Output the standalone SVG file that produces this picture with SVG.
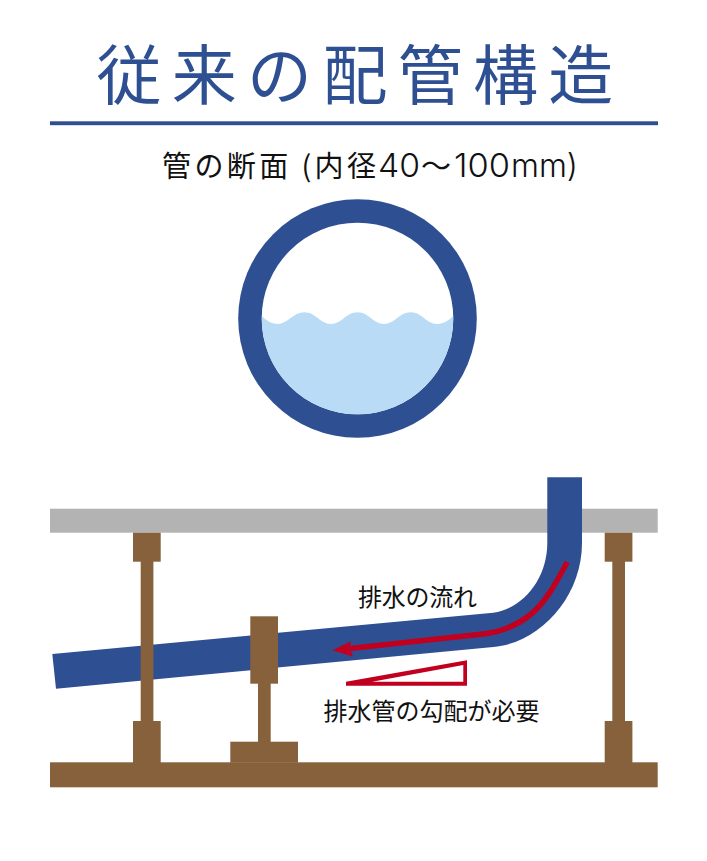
<svg xmlns="http://www.w3.org/2000/svg" width="707" height="861" viewBox="0 0 707 861">
<style>
text{font-family:"Noto Sans CJK JP","Noto Sans",sans-serif}
.blue{fill:#2e5093}.brown{fill:#87613b}.red{fill:#c1001f}
.lbl{font-size:24px;fill:#111}
.sub{font-size:29px;fill:#111}
.lat{font-family:"Inter","Liberation Sans",sans-serif;font-size:32px;font-weight:300;fill:#111}
</style>
<rect width="707" height="861" fill="#fff"/>
<g id="title">
<text x="96.500" y="98.500" font-size="65" letter-spacing="10.300" font-weight="400" class="blue">従来の配管構造</text>
<rect x="50" y="121.300" width="608" height="3.900" class="blue"/>
</g>
<g id="subtitle">
<text x="162" y="177" class="sub" textLength="214" lengthAdjust="spacing">管の断面 (内径</text>
<text x="378" y="177" class="lat" textLength="42" lengthAdjust="spacingAndGlyphs">40</text>
<text x="421" y="177" class="sub" textLength="30" lengthAdjust="spacingAndGlyphs">～</text>
<text x="454" y="177" class="lat" textLength="56" lengthAdjust="spacingAndGlyphs">100</text>
<text x="511" y="177" class="lat" textLength="67" lengthAdjust="spacingAndGlyphs">mm)</text>
</g>
<g id="pipe-section">
<circle cx="357.500" cy="318.500" r="119.300" class="blue"/>
<circle cx="357.500" cy="318.500" r="95.800" fill="#fff"/>
<path d="M261.800 316C266 320 271 324 277.700 324C288 324 293 312.300 304.300 312.300C316 312.300 320 324 331 324C342 324 346 312.300 357.600 312.300C369 312.300 373 324 384 324C395 324 399 312.300 411 312.300C422 312.300 426 324 437 324C444 324 449 320 453.200 316A95.800 95.800 0 0 1 357.500 414.300A95.800 95.800 0 0 1 261.800 316Z" fill="#b9dbf5"/>
</g>
<g id="ceiling"><rect x="50" y="508.700" width="607.700" height="24" fill="#b3b3b3"/></g>
<g id="floor"><rect x="50" y="762.300" width="607.700" height="25" class="brown"/></g>
<g id="support-right" class="brown">
<rect x="604.700" y="532.700" width="27.700" height="29"/>
<rect x="612.300" y="561" width="12.700" height="161"/>
<rect x="604.700" y="721" width="27.700" height="42"/>
</g>
<g id="pipe"><path d="M52.300 654L493.300 612.700C525 608 547.300 577 547.300 543V477.300H582V543C582 597 540 643 493.300 647L56 688.700Z" class="blue"/></g>
<g id="support-left" class="brown">
<rect x="133" y="532.700" width="27.700" height="29"/>
<rect x="140.700" y="561" width="12.700" height="161"/>
<rect x="133" y="721" width="27.700" height="42"/>
</g>
<g id="support-middle" class="brown">
<rect x="250.300" y="616.300" width="27.700" height="67.400"/>
<rect x="258" y="683" width="12.700" height="59"/>
<rect x="230.300" y="741.700" width="67.700" height="21"/>
</g>
<g id="connectors">
<path d="M567.300 562C555 585 545 603 530 615C515 627 500 632 483 634L350 648.500" fill="none" stroke="#c1001f" stroke-width="5.500"/>
<path d="M332.300 650.300L351 641.300L349.500 648.800L353.300 656.700Z" class="red"/>
</g>
<g id="slope"><path fill-rule="evenodd" d="M346 681.800L467 660.300V685.700H346ZM372 681.800H463.300V665Z" class="red"/></g>
<g id="label-flow"><text x="358" y="606" class="lbl" textLength="119" lengthAdjust="spacing">排水の流れ</text></g>
<g id="label-slope"><text x="323.500" y="720" class="lbl">排水管の勾配が必要</text></g>
</svg>
